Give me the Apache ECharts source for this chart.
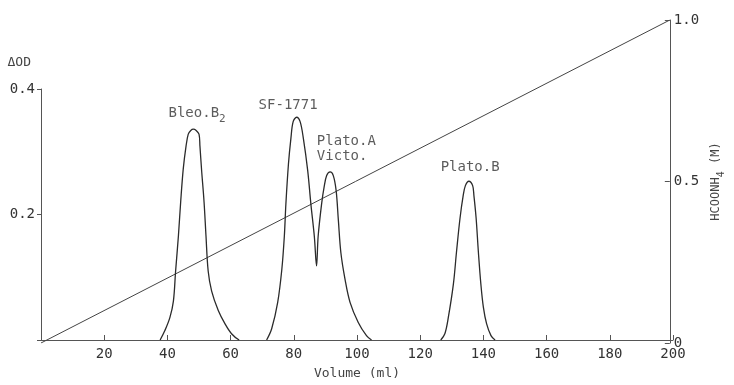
<!DOCTYPE html>
<html>
<head>
<meta charset="utf-8">
<script src="https://cdn.jsdelivr.net/npm/echarts@6/dist/echarts.min.js"></script>
<style>
  html, body { margin: 0; padding: 0; background: #fff; }
  #chart { width: 734px; height: 385px; }
</style>
</head>
<body>
<div id="chart"></div>
<script>
// elution profile (volume in ml, delta OD)
const bleoVolume = [37.7, 39.2, 40.8, 41.9, 42.6, 43.5, 44.2, 45.0, 45.9, 46.6, 47.4, 48.2, 49.1, 50.0, 50.3, 50.8, 51.6, 52.2, 52.9, 54.0, 56.1, 58.2, 60.3, 62.7];
const bleoOD = [0, 0.015, 0.036, 0.062, 0.110, 0.167, 0.220, 0.272, 0.309, 0.328, 0.334, 0.336, 0.334, 0.328, 0.309, 0.272, 0.220, 0.167, 0.110, 0.078, 0.047, 0.026, 0.010, 0];

const sfVolume = [71.4, 73.0, 74.9, 76.2, 77.0, 77.5, 78.3, 79.1, 79.8, 80.9, 82.0, 83.0, 84.4, 85.4, 86.5, 87.2, 87.7, 88.8, 89.6, 90.4, 91.5, 92.5, 93.4, 94.1, 94.9, 96.2, 97.8, 100.4, 103.0, 104.6];
const sfOD = [0, 0.018, 0.060, 0.112, 0.165, 0.217, 0.280, 0.322, 0.348, 0.355, 0.348, 0.322, 0.270, 0.217, 0.165, 0.118, 0.165, 0.217, 0.244, 0.262, 0.268, 0.262, 0.238, 0.191, 0.139, 0.097, 0.060, 0.028, 0.007, 0];

const platoBVolume = [126.5, 127.8, 128.9, 130.5, 131.5, 132.6, 133.6, 134.3, 135.4, 136.6, 137.0, 137.7, 138.4, 139.2, 140.0, 141.0, 142.4, 143.7];
const platoBOD = [0, 0.010, 0.036, 0.089, 0.141, 0.194, 0.230, 0.246, 0.253, 0.246, 0.230, 0.194, 0.141, 0.089, 0.052, 0.026, 0.007, 0];

// linear HCOONH4 gradient
const gradVolume = [0, 200];
const gradConc = [0, 1.0];

// peak names and where they sit (data units)
const peakNames = ['{t|Bleo.B}{s|2}', 'SF-1771', 'Plato.A\nVicto.', 'Plato.B'];
const peakLabelVolume = [49.4, 78.2, 87.3, 135.8];
const peakLabelOD = [0.356, 0.374, 0.304, 0.275];
const peakLabelAlign = ['center', 'center', 'left', 'center'];

const xTicks = [0, 20, 40, 60, 80, 100, 120, 140, 160, 180, 200];

const FONT = 'DejaVu Sans Mono';
const INK = '#2b2b2b';
const AXIS = '#555';

const pairs = (xs, ys) => xs.map((x, i) => [x, ys[i]]);

const trace = (xs, ys) => ({
    type: 'line',
    xAxisIndex: 0,
    yAxisIndex: 0,
    data: pairs(xs, ys),
    showSymbol: false,
    smooth: 0.35,
    lineStyle: { color: INK, width: 1.3 },
    silent: true,
    z: 3
});

const chart = echarts.init(document.getElementById('chart'), null, { renderer: 'canvas' });

chart.setOption({
    backgroundColor: '#fff',
    animation: false,
    textStyle: { fontFamily: FONT, color: '#333' },
    grid: [
        { left: 41, right: 61, top: 89, bottom: 42 },
        { left: 41, right: 61, top: 20, bottom: 42 }
    ],
    xAxis: [
        {
            type: 'value', gridIndex: 0, min: xTicks[0], max: xTicks[xTicks.length - 1], interval: 20,
            name: 'Volume (ml)', nameLocation: 'middle', nameGap: 27,
            nameTextStyle: { fontFamily: FONT, fontSize: 13, color: '#444' },
            axisLine: { onZero: false, lineStyle: { color: AXIS, width: 1 } },
            axisTick: { inside: true, length: 5, lineStyle: { color: AXIS } },
            axisLabel: { fontFamily: FONT, fontSize: 14, color: '#333', margin: 7,
                formatter: v => v === 0 ? '' : String(v) },
            splitLine: { show: false }
        },
        {
            type: 'value', gridIndex: 1, min: 0, max: 200, show: false
        }
    ],
    yAxis: [
        {
            type: 'value', gridIndex: 0, min: 0, max: 0.4, interval: 0.2,
            name: 'ΔOD', nameLocation: 'end', nameGap: 20,
            nameTextStyle: { fontFamily: FONT, fontSize: 13, color: '#444', align: 'right', padding: [0, 10, 0, 0] },
            axisLine: { show: true, onZero: false, lineStyle: { color: AXIS, width: 1 } },
            axisTick: { show: true, length: 4, lineStyle: { color: AXIS } },
            axisLabel: { fontFamily: FONT, fontSize: 14, color: '#333', margin: 6,
                formatter: v => v === 0 ? '' : v.toFixed(1) },
            splitLine: { show: false }
        },
        {
            type: 'value', gridIndex: 1, position: 'right', min: 0, max: 1, interval: 0.5,
            name: '{t|HCOONH}{s|4}{t| (M)}', nameLocation: 'middle', nameGap: 34, nameRotate: 90,
            nameTextStyle: {
                fontFamily: FONT, color: '#444',
                rich: {
                    t: { fontFamily: FONT, fontSize: 12, color: '#444', lineHeight: 14, padding: [0, 0, 4, 0], verticalAlign: 'bottom' },
                    s: { fontFamily: FONT, fontSize: 10, color: '#444', lineHeight: 12, verticalAlign: 'bottom' }
                }
            },
            axisLine: { show: true, onZero: false, lineStyle: { color: AXIS, width: 1 } },
            axisTick: { show: true, inside: true, length: 5, lineStyle: { color: AXIS } },
            axisLabel: { fontFamily: FONT, fontSize: 14, color: '#333', margin: 4,
                formatter: v => v === 0 ? '0' : v.toFixed(1) },
            splitLine: { show: false }
        }
    ],
    series: [
        trace(bleoVolume, bleoOD),
        trace(sfVolume, sfOD),
        trace(platoBVolume, platoBOD),
        {
            type: 'line',
            xAxisIndex: 1,
            yAxisIndex: 1,
            data: pairs(gradVolume, gradConc),
            showSymbol: false,
            lineStyle: { color: '#444', width: 1 },
            silent: true,
            z: 2
        },
        {
            type: 'scatter',
            xAxisIndex: 0,
            yAxisIndex: 0,
            symbolSize: 0,
            silent: true,
            data: peakNames.map((n, i) => ({
                value: [peakLabelVolume[i], peakLabelOD[i]],
                label: { formatter: n, align: peakLabelAlign[i] }
            })),
            label: {
                show: true,
                position: 'inside',
                fontFamily: FONT,
                fontSize: 14,
                color: '#333',
                lineHeight: 15,
                rich: {
                    t: { fontFamily: FONT, fontSize: 14, color: '#333', lineHeight: 16, padding: [0, 0, 4, 0], verticalAlign: 'bottom' },
                    s: { fontFamily: FONT, fontSize: 11, color: '#333', lineHeight: 12, verticalAlign: 'bottom' }
                }
            }
        }
    ]
});
</script>
</body>
</html>
